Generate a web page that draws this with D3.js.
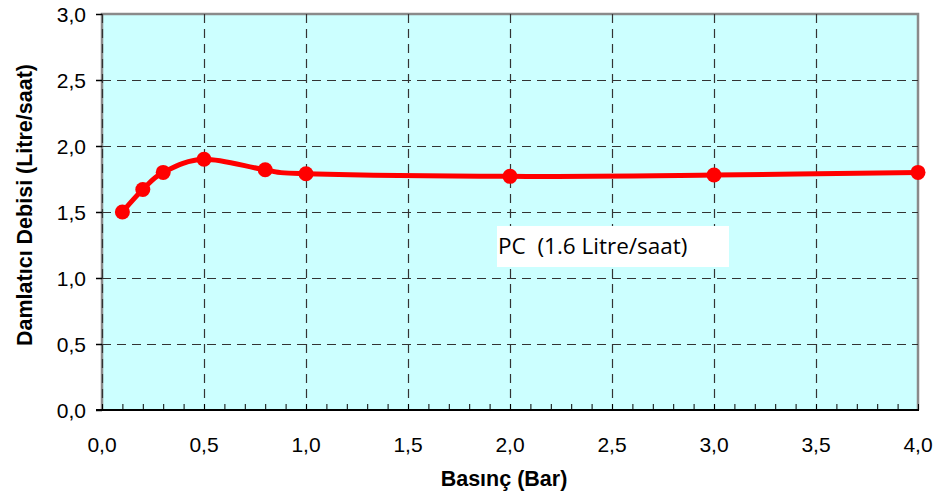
<!DOCTYPE html>
<html>
<head>
<meta charset="utf-8">
<script src="https://cdn.jsdelivr.net/npm/d3@7"></script>
<style>
  body { margin: 0; background: #fff; }
  svg { display: block; }
</style>
</head>
<body>
<svg id="chart" width="934" height="500"></svg>
<script>
// data
var pressure = [0.1, 0.2, 0.3, 0.5, 0.8, 1.0, 2.0, 3.0, 4.0];
var flow = [1.50, 1.67, 1.80, 1.90, 1.82, 1.79, 1.77, 1.78, 1.80];
var xTicks = [0, 0.5, 1, 1.5, 2, 2.5, 3, 3.5, 4];
var yTicks = [0, 0.5, 1, 1.5, 2, 2.5, 3];
var xMinor = d3.range(0, 41).map(function (i) { return i / 10; });
var seriesLabel = "PC  (1.6 Litre/saat)";

var mLeft = 102, mRight = 918, mTop = 14, mBottom = 410;
var svg = d3.select('#chart');
var fmt = function (d) { return d3.format('.1f')(d).replace('.', ','); };

var x = d3.scaleLinear().domain([0, 4]).range([mLeft, mRight]);
var y = d3.scaleLinear().domain([0, 3]).range([mBottom, mTop]);

// plot background
svg.append('rect')
    .attr('x', mLeft).attr('y', mTop)
    .attr('width', mRight - mLeft).attr('height', mBottom - mTop)
    .attr('fill', '#ccffff');

// frame: gray top / right / left
svg.append('path')
    .attr('d', 'M' + mLeft + ',' + mBottom + 'V' + mTop + 'H' + mRight + 'V' + mBottom)
    .attr('fill', 'none').attr('stroke', '#8a8a8a').attr('stroke-width', 2.5);

// dashed grid (the one at x = 0 sits on the left frame)
svg.append('g').selectAll('line')
    .data(xTicks.filter(function (d) { return d < 4; }))
    .enter().append('line')
    .attr('x1', function (d) { return x(d) + 0.5; }).attr('x2', function (d) { return x(d) + 0.5; })
    .attr('y1', mTop).attr('y2', mBottom)
    .attr('stroke', '#333').attr('stroke-width', 1.2)
    .attr('stroke-dasharray', '9,6');

svg.append('g').selectAll('line')
    .data(yTicks.filter(function (d) { return d > 0 && d < 3; }))
    .enter().append('line')
    .attr('x1', mLeft).attr('x2', mRight)
    .attr('y1', function (d) { return y(d) + 0.5; }).attr('y2', function (d) { return y(d) + 0.5; })
    .attr('stroke', '#333').attr('stroke-width', 1.2)
    .attr('stroke-dasharray', '9,6');

// x axis with minor ticks pointing inward
var xAxis = svg.append('g').attr('transform', 'translate(0,' + mBottom + ')');
xAxis.append('line').attr('x1', mLeft - 6).attr('x2', mRight + 1)
    .attr('stroke', '#000').attr('stroke-width', 2);
xAxis.selectAll('.minor')
    .data(xMinor)
    .enter().append('line')
    .attr('class', 'minor')
    .attr('x1', function (d) { return x(d) + 0.5; }).attr('x2', function (d) { return x(d) + 0.5; })
    .attr('y1', 0).attr('y2', -6)
    .attr('stroke', '#000').attr('stroke-width', 1);
xAxis.selectAll('text')
    .data(xTicks)
    .enter().append('text')
    .attr('x', function (d) { return x(d); })
    .attr('y', 42)
    .attr('text-anchor', 'middle')
    .style('font', '21px "Liberation Sans", Arial, sans-serif')
    .text(fmt);

// y axis ticks outward
var yAxis = svg.append('g');
yAxis.selectAll('line')
    .data(yTicks)
    .enter().append('line')
    .attr('x1', mLeft - 6).attr('x2', mLeft)
    .attr('y1', function (d) { return y(d) + 0.5; }).attr('y2', function (d) { return y(d) + 0.5; })
    .attr('stroke', '#000').attr('stroke-width', 1.5);
yAxis.selectAll('text')
    .data(yTicks)
    .enter().append('text')
    .attr('x', 86)
    .attr('y', function (d) { return y(d) + 7.5; })
    .attr('text-anchor', 'end')
    .style('font', '21px "Liberation Sans", Arial, sans-serif')
    .text(fmt);

// axis titles
svg.append('text')
    .attr('x', 504).attr('y', 486)
    .attr('text-anchor', 'middle')
    .style('font', 'bold 21.5px "Liberation Sans", Arial, sans-serif')
    .text('Basınç (Bar)');

svg.append('text')
    .attr('transform', 'translate(32,205) rotate(-90)')
    .attr('text-anchor', 'middle')
    .style('font', 'bold 21.5px "Liberation Sans", Arial, sans-serif')
    .text('Damlatıcı Debisi (Litre/saat)');

// smoothed series line
var pts = pressure.map(function (p, i) { return [p, flow[i]]; });
var line = d3.line()
    .x(function (d) { return x(d[0]); })
    .y(function (d) { return y(d[1]); })
    .curve(d3.curveCardinal.tension(0));

svg.append('path')
    .datum(pts)
    .attr('d', line)
    .attr('fill', 'none')
    .attr('stroke', '#ff0000')
    .attr('stroke-width', 5)
    .attr('stroke-linejoin', 'round');

svg.append('g').selectAll('circle')
    .data(pts)
    .enter().append('circle')
    .attr('cx', function (d) { return x(d[0]); })
    .attr('cy', function (d) { return y(d[1]); })
    .attr('r', 7.5)
    .attr('fill', '#ff0000');

// series label box
svg.append('rect')
    .attr('x', 497).attr('y', 226)
    .attr('width', 232).attr('height', 41)
    .attr('fill', '#fff');
svg.append('text')
    .attr('x', 498).attr('y', 254)
    .style('font', '22.5px "Open Sans", "Noto Sans", sans-serif')
    .style('white-space', 'pre')
    .text(seriesLabel);
</script>
</body>
</html>
